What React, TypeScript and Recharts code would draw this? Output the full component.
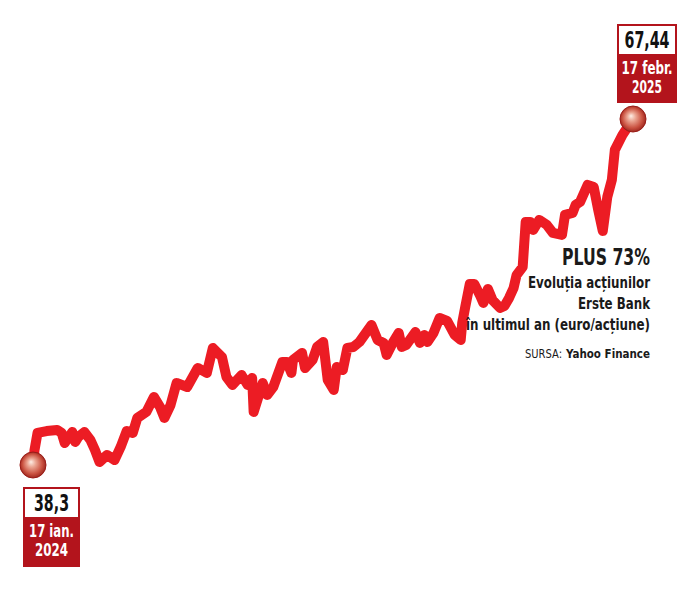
import { LineChart, Line, XAxis, YAxis, ReferenceDot } from "recharts";

// days since 17 Jan 2024 and closing price (euro/share)
const days = [
  0, 1, 3, 9, 16, 19, 21, 26, 28, 30, 34, 38, 41, 44, 49, 54, 58, 62, 66, 69,
  75, 80, 84, 87, 91, 95, 102, 109, 115, 119, 125, 128, 132, 138, 142, 145, 146, 152, 155, 159,
  165, 168, 171, 172, 178, 180, 185, 188, 192, 195, 199, 201, 205, 208, 212, 216, 224, 228, 232, 234,
  238, 242, 244, 247, 253, 256, 259, 261, 265, 269, 274, 279, 283, 284, 286, 289, 292, 296, 298, 301,
  304, 309, 312, 315, 318, 320, 324, 326, 329, 331, 335, 340, 344, 350, 352, 357, 359, 362, 367, 371,
  374, 377, 380, 383, 385, 390, 397,
];
const prices = [
  38.3, 39.56, 41.0, 41.16, 41.25, 41.0, 40.15, 41.08, 40.24, 40.66, 41.08, 40.41, 39.56, 38.55, 39.14, 38.72, 39.82, 41.16, 41.0, 42.26,
  42.77, 44.03, 43.19, 42.26, 43.35, 45.21, 44.87, 46.47, 46.05, 48.16, 47.4, 45.71, 45.04, 45.88, 45.04, 45.63, 42.77, 45.21, 44.2, 44.87,
  46.98, 46.98, 46.05, 47.15, 47.74, 46.47, 47.15, 48.24, 48.66, 45.46, 44.62, 46.56, 46.3, 48.16, 48.24, 48.66, 50.09, 48.83, 48.58, 47.57,
  48.58, 49.42, 48.24, 48.41, 49.5, 48.58, 49.25, 48.66, 49.42, 50.68, 50.43, 49.25, 48.83, 50.26, 51.61, 53.55, 53.55, 52.54, 51.95, 53.13,
  52.2, 51.53, 51.7, 52.37, 53.21, 54.31, 54.98, 58.77, 58.77, 58.1, 58.94, 58.52, 57.85, 57.68, 59.36, 59.53, 60.2, 60.46, 61.89, 61.72,
  59.78, 58.01, 60.88, 62.31, 64.84, 66.1, 67.44,
];
const data = days.map((day, i) => ({ day, price: prices[i] }));

const first = data[0];
const last = data[data.length - 1];
const startLabel = ["38,3", "17 ian.", "2024"];
const endLabel = ["67,44", "17 febr.", "2025"];

const titleLines = ["Evoluția acțiunilor", "Erste Bank", "în ultimul an (euro/acțiune)"];

const narrow = "'Liberation Sans Narrow', 'DejaVu Sans Condensed', 'Arial Narrow', sans-serif";
const boxRed = "#b3141c";

function Ball({ cx, cy }: { cx: number; cy: number }) {
  return <circle cx={cx} cy={cy} r={13} fill="url(#ballFill)" stroke="#9a1b16" strokeWidth={1} />;
}

// value box hanging off the ball, dx/dy = top-left offset from the ball centre
function Marker(props: any) {
  const { cx, cy, lines, dx, dy, w, h, widths } = props;
  const x = cx + dx;
  const y = cy + dy;
  return (
    <g>
      <rect x={x} y={y} width={w} height={h} fill={boxRed} />
      <rect x={x + 2} y={y + 2} width={w - 4} height={28} fill="#fff" />
      <text x={x + w / 2} y={y + 24} textAnchor="middle" fontFamily={narrow} fontWeight="bold" fontSize={23}
        fill="#111" textLength={widths[0]} lengthAdjust="spacingAndGlyphs">
        {lines[0]}
      </text>
      <text x={x + w / 2} y={y + 50} textAnchor="middle" fontFamily={narrow} fontWeight="bold" fontSize={17}
        fill="#fff" textLength={widths[1]} lengthAdjust="spacingAndGlyphs">
        {lines[1]}
      </text>
      <text x={x + w / 2} y={y + 69} textAnchor="middle" fontFamily={narrow} fontWeight="bold" fontSize={17}
        fill="#fff" textLength={widths[2]} lengthAdjust="spacingAndGlyphs">
        {lines[2]}
      </text>
      <Ball cx={cx} cy={cy} />
    </g>
  );
}

export default function App() {
  return (
    <div style={{ position: "absolute", left: 0, top: 0, width: 699, height: 591, background: "#fff" }}>
      <svg width={0} height={0} style={{ position: "absolute" }}>
        <defs>
          <radialGradient id="ballFill" cx="0.5" cy="0.5" r="0.55" fx="0.42" fy="0.38">
            <stop offset="0" stopColor="#fdeee6" />
            <stop offset="0.3" stopColor="#eba592" />
            <stop offset="0.7" stopColor="#c9503f" />
            <stop offset="1" stopColor="#8f1c16" />
          </radialGradient>
        </defs>
      </svg>
      <LineChart width={699} height={591} data={data} margin={{ top: 119, right: 66, bottom: 126, left: 33 }}>
        <XAxis type="number" dataKey="day" domain={[0, 397]} hide />
        <YAxis type="number" domain={[38.3, 67.44]} hide />
        <Line
          type="linear"
          dataKey="price"
          stroke="#ec1c24"
          strokeWidth={10}
          strokeLinejoin="round"
          strokeLinecap="round"
          dot={false}
          activeDot={false}
          isAnimationActive={false}
        />
        <ReferenceDot
          x={first.day}
          y={first.price}
          ifOverflow="visible"
          shape={(p: any) => (
            <Marker {...p} lines={startLabel} dx={-10} dy={22} w={57} h={80} widths={[35, 45, 33]} />
          )}
        />
        <ReferenceDot
          x={last.day}
          y={last.price}
          ifOverflow="visible"
          shape={(p: any) => (
            <Marker {...p} lines={endLabel} dx={-16} dy={-95} w={60} h={79} widths={[45, 51, 30]} />
          )}
        />
      </LineChart>
      <svg width={699} height={591} style={{ position: "absolute", left: 0, top: 0, pointerEvents: "none" }}>
        <g fontFamily={narrow} fontWeight="bold" fill="#1a1a1a" textAnchor="end">
          <text x={650} y={265} fontSize={23} textLength={88} lengthAdjust="spacingAndGlyphs">PLUS 73%</text>
          <text x={650} y={288} fontSize={16} textLength={122} lengthAdjust="spacingAndGlyphs">{titleLines[0]}</text>
          <text x={650} y={309} fontSize={16} textLength={72} lengthAdjust="spacingAndGlyphs">{titleLines[1]}</text>
          <text x={650} y={330} fontSize={16} textLength={184} lengthAdjust="spacingAndGlyphs">{titleLines[2]}</text>
        </g>
        <text x={525} y={358} fontFamily={narrow} fontSize={13} fill="#1a1a1a" textLength={37} lengthAdjust="spacingAndGlyphs">SURSA:</text>
        <text x={650} y={358} fontFamily={narrow} fontSize={13} fontWeight="bold" fill="#1a1a1a" textAnchor="end"
          textLength={84} lengthAdjust="spacingAndGlyphs">Yahoo Finance</text>
      </svg>
    </div>
  );
}
